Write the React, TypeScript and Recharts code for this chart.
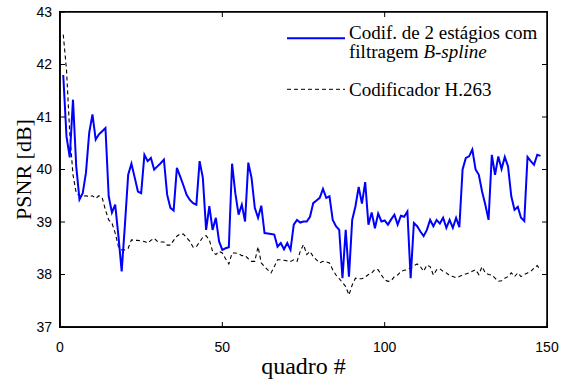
import React from "react";
import { LineChart, Line, XAxis, YAxis } from "recharts";

const frames: number[] = Array.from({ length: 148 }, (_, i) => i + 1);

const psnrBspline: number[] = [
  41.8, 40.63, 40.23, 41.33, 40.06, 39.43, 39.55, 39.94, 40.7, 41.05,
  40.57, 40.67, 40.73, 40.79, 39.49, 39.18, 39.33, 38.73, 38.06, 38.95,
  39.9, 40.11, 39.85, 39.58, 39.55, 40.28, 40.16, 40.22, 40.0, 40.06,
  40.12, 40.19, 39.52, 39.27, 39.22, 40.03, 39.87, 39.7, 39.52, 39.42,
  39.36, 39.33, 40.16, 39.84, 38.85, 39.3, 38.85, 39.08, 38.63, 38.47,
  38.5, 38.52, 40.11, 39.55, 39.14, 39.33, 39.01, 40.13, 39.84, 39.27,
  39.08, 39.31, 38.79, 38.78, 38.77, 38.76, 38.53, 38.6, 38.48, 38.6,
  38.47, 38.95, 39.04, 38.99, 39.01, 39.01, 39.1, 39.36, 39.41, 39.46,
  39.63, 39.46, 39.49, 39.04, 38.92, 38.85, 37.93, 38.85, 37.96, 39.04,
  39.3, 39.67, 39.35, 39.76, 38.95, 39.18, 38.88, 39.16, 39.01, 39.03,
  38.95, 39.05, 39.14, 38.95, 39.12, 39.1, 39.2, 37.93, 38.98, 38.92,
  38.82, 38.73, 38.85, 39.04, 38.92, 39.04, 38.97, 39.08, 38.89, 39.04,
  38.89, 39.08, 38.9, 40.0, 40.22, 40.25, 40.38, 40.0, 39.9, 39.58,
  39.33, 39.04, 40.28, 39.9, 40.25, 40.01, 40.24, 40.06, 39.49, 39.23,
  39.29, 39.08, 39.02, 40.24, 40.16, 40.09, 40.28, 40.26,
];

const psnrH263: number[] = [
  42.57, 41.9, 40.7, 39.9, 39.55, 39.5, 39.49, 39.5, 39.48, 39.5,
  39.45, 39.5, 39.46, 39.23, 39.04, 38.98, 38.79, 38.53, 38.47, 38.47,
  38.5, 38.66, 38.65, 38.65, 38.64, 38.63, 38.6, 38.65, 38.69, 38.63,
  38.62, 38.62, 38.56, 38.56, 38.65, 38.73, 38.77, 38.77, 38.7, 38.63,
  38.52, 38.53, 38.62, 38.71, 38.74, 38.66, 38.44, 38.38, 38.44, 38.41,
  38.3, 38.2, 38.41, 38.41, 38.4, 38.36, 38.36, 38.3, 38.25, 38.25,
  38.53, 38.22, 38.15, 38.09, 38.03, 38.15, 38.28, 38.28, 38.27, 38.26,
  38.25, 38.28, 38.25, 38.44, 38.57, 38.38, 38.44, 38.34, 38.28, 38.22,
  38.25, 38.24, 38.22, 38.09, 37.99, 37.92, 37.85, 37.77, 37.61, 37.8,
  37.93, 37.92, 37.92, 37.95, 38.0, 38.03, 38.1, 38.09, 37.99, 37.9,
  37.87, 37.88, 37.96, 37.99, 38.06, 38.08, 38.09, 38.13, 38.17, 38.2,
  38.15, 38.06, 38.18, 38.15, 37.99, 38.09, 38.11, 38.06, 38.03, 37.98,
  37.96, 37.94, 37.96, 37.99, 38.01, 38.03, 38.06, 38.09, 38.0, 38.15,
  38.03, 38.0, 37.99, 37.93, 37.87, 37.88, 37.93, 37.96, 38.03, 37.96,
  38.03, 37.96, 38.0, 38.03, 38.06, 38.12, 38.17, 38.08,
];

const xTicks: number[] = [0, 50, 100, 150];
const yTicks: number[] = [37, 38, 39, 40, 41, 42, 43];

const seriesNames = {
  bsplineLine1: "Codif. de 2 estágios com",
  bsplineLine2a: "filtragem ",
  bsplineLine2b: "B-spline",
  h263: "Codificador H.263",
};

const data = frames.map((f, i) => ({
  frame: f,
  bspline: psnrBspline[i],
  h263: psnrH263[i],
}));

const SANS = "'Liberation Sans', Arial, sans-serif";
const SERIF = "'Liberation Serif', 'Times New Roman', serif";

const W = 561;
const H = 380;
const M = { top: 12, right: 14, bottom: 23, left: 0 };
const Y_AXIS_W = 60;
const X_AXIS_H = 30;
const PL = M.left + Y_AXIS_W;
const PR = W - M.right;
const PT = M.top;
const PB = H - M.bottom - X_AXIS_H;
const X_DOM: [number, number] = [0, 150];
const Y_DOM: [number, number] = [37, 43];
const sx = (v: number) => PL + ((v - X_DOM[0]) / (X_DOM[1] - X_DOM[0])) * (PR - PL);
const sy = (v: number) => PB - ((v - Y_DOM[0]) / (Y_DOM[1] - Y_DOM[0])) * (PB - PT);

const FrameOverlay = () => (
  <svg width={W} height={H} style={{ position: "absolute", left: 0, top: 0, pointerEvents: "none" }}>
    <rect x={PL} y={PT} width={PR - PL} height={PB - PT} fill="none" stroke="#000" strokeWidth={1.5} />
    {xTicks.slice(1, -1).map((t) => (
      <line key={`tx${t}`} x1={sx(t)} y1={PT} x2={sx(t)} y2={PT + 5} stroke="#000" strokeWidth={1} />
    ))}
    {yTicks.slice(1, -1).map((t) => (
      <line key={`ty${t}`} x1={PR} y1={sy(t)} x2={PR - 5} y2={sy(t)} stroke="#000" strokeWidth={1} />
    ))}
    <g transform="translate(280,10)">
      <line x1={7} y1={28.3} x2={65} y2={28.3} stroke="#0000ff" strokeWidth={2} />
      <text x={69} y={29} fontFamily={SERIF} fontSize={19} fill="#000">
        {seriesNames.bsplineLine1}
      </text>
      <text x={69} y={48} fontFamily={SERIF} fontSize={19} fill="#000">
        {seriesNames.bsplineLine2a}
        <tspan fontStyle="italic">{seriesNames.bsplineLine2b}</tspan>
      </text>
      <line x1={7} y1={79.3} x2={65} y2={79.3} stroke="#000" strokeWidth={1} strokeDasharray="4 3" />
      <text x={69} y={85.5} fontFamily={SERIF} fontSize={19} fill="#000">
        {seriesNames.h263}
      </text>
    </g>
  </svg>
);

export default function App() {
  return (
    <div style={{ position: "absolute", left: 0, top: 0, width: W, height: H, background: "#fff" }}>
      <LineChart width={W} height={H} data={data} margin={M}>
        <XAxis
          dataKey="frame"
          type="number"
          domain={X_DOM}
          ticks={xTicks}
          height={X_AXIS_H}
          stroke="#000"
          axisLine={{ stroke: "#000", strokeWidth: 1.5 }}
          tickLine={{ stroke: "#000" }}
          tickSize={-5}
          tickMargin={20}
          tick={{ fontFamily: SANS, fontSize: 14, fill: "#000" }}
          label={{
            value: "quadro #",
            position: "insideBottom",
            offset: -17,
            style: { fontFamily: SERIF, fontSize: 24, fill: "#000" },
          }}
        />
        <YAxis
          type="number"
          domain={Y_DOM}
          ticks={yTicks}
          width={Y_AXIS_W}
          stroke="#000"
          axisLine={{ stroke: "#000", strokeWidth: 1.5 }}
          tickLine={{ stroke: "#000" }}
          tickSize={-5}
          tickMargin={13}
          tick={{ fontFamily: SANS, fontSize: 14, fill: "#000" }}
          label={{
            value: "PSNR [dB]",
            angle: -90,
            position: "insideLeft",
            offset: 23,
            style: { fontFamily: SERIF, fontSize: 22, fill: "#000", textAnchor: "middle" },
          }}
        />
        <Line
          dataKey="h263"
          stroke="#000"
          strokeWidth={1.1}
          strokeDasharray="4 3"
          dot={false}
          isAnimationActive={false}
          type="linear"
        />
        <Line
          dataKey="bspline"
          stroke="#0000ff"
          strokeWidth={2}
          dot={false}
          isAnimationActive={false}
          type="linear"
        />
      </LineChart>
      <FrameOverlay />
      <div
        style={{
          position: "absolute",
          left: PL - 1,
          top: PT - 1,
          width: PR - PL + 2,
          height: PB - PT + 2,
          border: "1.5px solid #000",
          boxSizing: "border-box",
          pointerEvents: "none",
        }}
      />
    </div>
  );
}
